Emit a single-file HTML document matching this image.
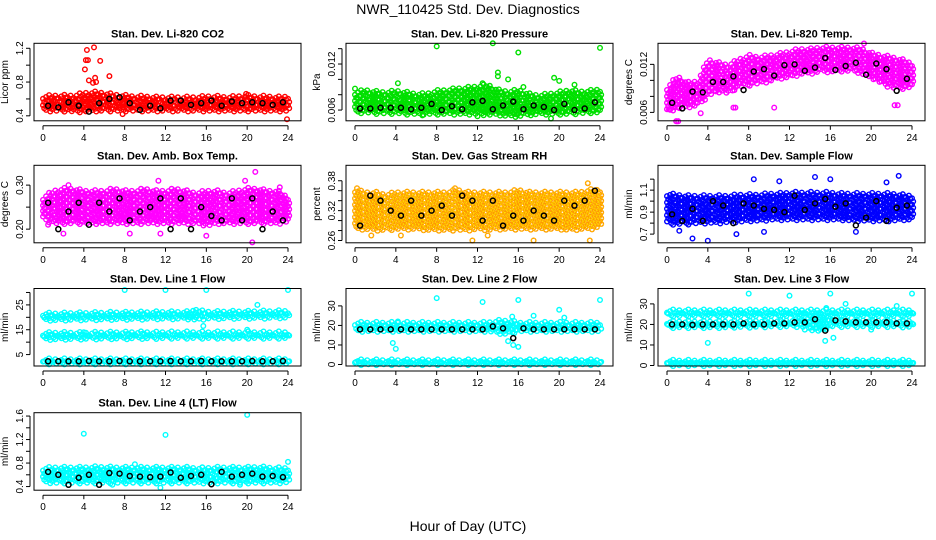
<!DOCTYPE html>
<html><head><meta charset="utf-8"><style>
body{margin:0;background:#fff}
svg{display:block;font-family:"Liberation Sans",Arial,sans-serif}
</style></head><body>
<svg id="c" width="936" height="540" viewBox="0 0 936 540">
<rect width="936" height="540" fill="#fff"/>
<text x="468" y="14" text-anchor="middle" font-size="14">NWR_110425  Std. Dev. Diagnostics</text>
<text x="468" y="531" text-anchor="middle" font-size="14">Hour of Day (UTC)</text>
</svg>
<script>
const hours=[0,1,2,3,4,5,6,7,8,9,10,11,12,13,14,15,16,17,18,19,20,21,22,23,24];
const blackHours=[0.5,1.5,2.5,3.5,4.5,5.5,6.5,7.5,8.5,9.5,10.5,11.5,12.5,13.5,14.5,15.5,16.5,17.5,18.5,19.5,20.5,21.5,22.5,23.5];
const xTicks=[0,4,8,12,16,20,24];
// CO2
const co2Lo=[0.47,0.47,0.47,0.46,0.46,0.47,0.47,0.47,0.47,0.47,0.47,0.47,0.47,0.47,0.47,0.47,0.47,0.47,0.47,0.47,0.47,0.47,0.47,0.47,0.47];
const co2Hi=[0.62,0.63,0.63,0.63,0.66,0.67,0.66,0.64,0.63,0.62,0.62,0.61,0.61,0.61,0.61,0.61,0.62,0.62,0.61,0.62,0.63,0.62,0.62,0.61,0.62];
const co2Black=[0.52,0.50,0.56,0.52,0.45,0.55,0.60,0.62,0.55,0.47,0.52,0.49,0.58,0.58,0.53,0.55,0.58,0.52,0.57,0.55,0.56,0.55,0.53,0.56];
const co2OutX=[4.1,4.2,4.3,4.4,4.5,4.9,5.0,5.1,5.2,5.6,6.5,23.9,7.8,19.9];
const co2OutY=[0.95,1.06,1.18,1.06,0.82,0.79,1.21,0.85,0.80,1.05,0.87,0.36,0.42,0.66];
// Pressure
const prLo=[0.0058,0.0058,0.0057,0.0057,0.0057,0.0056,0.0056,0.0056,0.0056,0.0056,0.0056,0.0056,0.0056,0.0055,0.0055,0.0053,0.0053,0.0055,0.0056,0.0056,0.0056,0.0056,0.0057,0.0058,0.0058];
const prHi=[0.0082,0.0085,0.0083,0.0082,0.0084,0.0082,0.0080,0.0080,0.0084,0.0085,0.0087,0.0088,0.0090,0.0092,0.0085,0.0083,0.0085,0.0080,0.0078,0.0080,0.0082,0.0085,0.0083,0.0084,0.0086];
const prBlack=[0.0062,0.0062,0.0063,0.0063,0.0063,0.0061,0.0063,0.0068,0.0060,0.0065,0.0061,0.0070,0.0072,0.0061,0.0066,0.0071,0.0061,0.0066,0.0064,0.0060,0.0068,0.0060,0.0062,0.0070];
const prOutX=[8,13.5,16,24,14,14,15,19.5,20,12.5,19.2,12,6.6,0,4.2,21.5,16.5];
const prOutY=[0.0143,0.0147,0.0135,0.0141,0.0109,0.0104,0.0100,0.0102,0.0098,0.0095,0.0049,0.0052,0.0053,0.0088,0.0095,0.0093,0.0090];
// Temp
const tpLo=[0.0062,0.0066,0.0068,0.0070,0.0083,0.0087,0.0085,0.0093,0.0095,0.0098,0.0100,0.0104,0.0105,0.0109,0.0110,0.0112,0.0112,0.0113,0.0113,0.0110,0.0104,0.0097,0.0092,0.0091,0.0093];
const tpHi=[0.0090,0.0104,0.0096,0.0098,0.0125,0.0121,0.0118,0.0125,0.0130,0.0128,0.0130,0.0132,0.0135,0.0138,0.0138,0.0140,0.0140,0.0140,0.0140,0.0139,0.0133,0.0130,0.0128,0.0125,0.0120];
const tpBlack=[0.0072,0.0065,0.0086,0.0085,0.0098,0.0098,0.0105,0.0088,0.0111,0.0114,0.0106,0.0119,0.0120,0.0112,0.0116,0.0128,0.0113,0.0118,0.0122,0.0107,0.0121,0.0114,0.0087,0.0102];
const tpOutX=[0.9,1.1,3.3,6.5,6.7,10.5,19.3,22.3,22.6,0.2];
const tpOutY=[0.0049,0.0049,0.0059,0.0066,0.0066,0.0066,0.0146,0.0069,0.0069,0.0064];
// Amb box temp
const amLo=[0.225,0.215,0.215,0.215,0.215,0.215,0.215,0.215,0.215,0.215,0.215,0.215,0.215,0.215,0.215,0.215,0.21,0.215,0.215,0.215,0.215,0.215,0.215,0.215,0.22];
const amHi=[0.27,0.285,0.29,0.29,0.285,0.285,0.285,0.29,0.285,0.285,0.29,0.285,0.285,0.29,0.285,0.28,0.285,0.285,0.28,0.285,0.29,0.29,0.285,0.285,0.27];
const amBlack=[0.26,0.20,0.24,0.26,0.21,0.26,0.24,0.27,0.22,0.24,0.25,0.27,0.20,0.27,0.20,0.25,0.23,0.22,0.27,0.22,0.27,0.20,0.24,0.22];
const amOutX=[2,8.5,11.5,16,20.5,20.8,11.3,19.8,23.2,0.5,2.5];
const amOutY=[0.19,0.19,0.19,0.185,0.17,0.33,0.31,0.31,0.295,0.21,0.30];
// Gas stream RH
const rhLo=[0.285,0.285,0.283,0.283,0.285,0.285,0.285,0.283,0.283,0.283,0.283,0.283,0.285,0.283,0.285,0.285,0.285,0.285,0.285,0.285,0.285,0.283,0.285,0.285,0.29];
const rhHi=[0.36,0.355,0.355,0.35,0.355,0.355,0.355,0.355,0.355,0.355,0.36,0.355,0.355,0.355,0.355,0.355,0.36,0.355,0.355,0.355,0.355,0.355,0.355,0.36,0.36];
const rhBlack=[0.29,0.35,0.34,0.32,0.31,0.34,0.31,0.32,0.33,0.31,0.35,0.34,0.30,0.34,0.29,0.31,0.30,0.32,0.31,0.30,0.34,0.33,0.34,0.36];
const rhOutX=[0.2,11.5,17.5,23,22.8,4.5,1.6,9.8,13];
const rhOutY=[0.365,0.26,0.26,0.26,0.375,0.27,0.27,0.365,0.27];
// Sample flow
const sfLo=[0.80,0.80,0.80,0.81,0.81,0.81,0.82,0.82,0.83,0.83,0.84,0.84,0.84,0.84,0.84,0.84,0.84,0.84,0.83,0.83,0.83,0.83,0.83,0.84,0.84];
const sfHi=[1.06,1.05,1.04,1.04,1.04,1.04,1.04,1.05,1.05,1.05,1.06,1.06,1.07,1.07,1.07,1.07,1.07,1.06,1.06,1.06,1.06,1.06,1.06,1.05,1.04];
const sfBlack=[0.88,0.82,0.93,0.82,1.00,0.96,0.80,0.98,0.96,0.93,0.92,0.90,1.05,0.92,0.98,1.02,0.95,0.98,0.78,0.85,1.00,0.82,0.94,0.96];
const sfOutX=[2.5,4,8.5,14.5,22.7,6.8,18.5,11,16,21.5,1.2,9.5];
const sfOutY=[0.66,0.64,1.20,1.22,1.23,0.70,0.72,1.18,1.20,1.17,0.73,0.72];
// Line 1
const l1aLo=[19.3,19.2,19.3,19.4,19.4,19.5,19.5,19.6,19.6,19.7,19.7,19.8,19.8,19.8,19.8,19.3,19.9,19.9,20.0,20.0,20.0,20.1,20.1,20.2,20.2];
const l1aHi=[21.3,21.2,21.3,21.4,21.4,21.5,21.5,21.6,21.6,21.7,21.7,21.8,21.8,21.8,21.8,22.5,21.9,21.9,22.0,22.0,22.0,22.1,22.1,22.2,22.2];
const l1bLo=[11.5,11.5,11.6,11.6,11.7,11.7,11.8,11.8,11.8,11.9,11.9,11.9,12.0,12.0,12.0,12.0,12.0,12.0,12.0,12.0,12.0,12.0,12.0,12.0,12.0];
const l1bHi=[13.3,13.5,13.5,13.4,13.5,13.5,13.6,13.6,13.6,13.7,13.7,13.6,13.7,13.7,13.7,13.7,13.6,13.7,13.7,13.7,13.7,13.7,13.6,13.7,13.6];
const l1cLo=[1.7,1.7,1.7,1.7,1.7,1.7,1.7,1.7,1.7,1.7,1.7,1.7,1.7,1.7,1.7,1.7,1.7,1.7,1.7,1.7,1.7,1.7,1.7,1.7,1.7];
const l1cHi=[2.8,2.8,2.8,2.8,2.8,2.8,2.8,2.8,2.8,2.8,2.8,2.8,2.8,2.8,2.8,2.8,2.8,2.8,2.8,2.8,2.8,2.8,2.8,2.8,2.8];
const l1Black=[2.3,2.3,2.3,2.3,2.4,2.3,2.3,2.4,2.3,2.3,2.3,2.3,2.4,2.3,2.3,2.4,2.3,2.3,2.3,2.3,2.4,2.3,2.3,2.4];
const l1OutX=[8,12,16,24,21,15.7,15,20,4];
const l1OutY=[31,31,31,31,25,16.5,23,15,14];
// Line 2
const l2aLo=[17.5,17.5,17.5,17.5,17.5,17.5,17.5,17.5,17.5,17.5,17.5,17.5,17.5,17.5,16.5,16,17.5,17.5,17.5,17.5,17.5,17.5,17.5,17.5,17.5];
const l2aHi=[21,21,21,21,21,21,21,21,21,21,21,21,21,21,22,22,21,21,21,21,21,21,21,21,21];
const l2bLo=[0.5,0.5,0.5,0.5,0.5,0.5,0.5,0.5,0.5,0.5,0.5,0.5,0.5,0.5,0.5,0.5,0.5,0.5,0.5,0.5,0.5,0.5,0.5,0.5,0.5];
const l2bHi=[1.8,1.8,1.8,1.8,1.8,1.8,1.8,1.8,1.8,1.8,1.8,1.8,1.8,1.8,1.8,1.8,1.8,1.8,1.8,1.8,1.8,1.8,1.8,1.8,1.8];
const l2Black=[18,18,18,18,18,18,18,18,18,18,18,18,18,19.5,18.5,13.5,18.5,18,18,18,18,18,18,18];
const l2OutX=[3.7,4,4.2,8,12.5,16,17.5,20,20.5,24,15,15.5,15.4,16];
const l2OutY=[11,8,22,34,32,33,25,28,24,33,12,10,24.5,9];
// Line 3
const l3aLo=[24.5,24.5,24.5,24.5,24.5,24.5,24.5,24.5,24.5,24.5,24.5,24.5,24.5,24.5,24.5,24.5,24.5,24.5,24.5,24.5,24.5,24.5,24.5,24.5,24.5];
const l3aHi=[26.5,26.5,26.5,26.5,26.5,26.5,26.5,26.5,26.5,26.5,26.5,26.5,26.5,26.5,26.5,26.5,26.5,26.5,26.5,26.5,26.5,26.5,26.5,26.5,26.5];
const l3bLo=[19,19,19,19,19,19,19,19.2,19.2,19.3,19.4,19.5,19.5,19.5,18,17,19.5,19.5,19.5,19.5,19.5,19.5,19.5,19.3,19.3];
const l3bHi=[21,21,21,21,21,21,21,21.2,21.2,21.3,21.4,21.5,21.5,22,23,24,22,21.5,21.5,21.5,21.5,21.5,21.5,21.3,21.3];
const l3cLo=[0.5,0.5,0.5,0.5,0.5,0.5,0.5,0.5,0.5,0.5,0.5,0.5,0.5,0.5,0.5,0.5,0.5,0.5,0.5,0.5,0.5,0.5,0.5,0.5,0.5];
const l3cHi=[2,2,2,2,2,2,2,2,2,2,2,2,2,2,2,2,2,2,2,2,2,2,2,2,2];
const l3Black=[20,20,19.8,20,20,20,20,20.5,20,20,20.5,20.5,21,21,22.5,17,22,21.5,21,21,21,21,20.5,20.5];
const l3OutX=[4,8,12,16,24,17.5,22.5,20,15.5,13.5,15.6,16.3];
const l3OutY=[11,35,34,35,35,30,29,17.5,12,17.5,28,13.5];
// Line 4
const l4Lo=[0.49,0.48,0.48,0.48,0.48,0.48,0.48,0.48,0.48,0.48,0.48,0.48,0.48,0.48,0.48,0.48,0.48,0.48,0.48,0.48,0.48,0.48,0.48,0.48,0.49];
const l4Hi=[0.70,0.71,0.71,0.71,0.71,0.72,0.72,0.71,0.71,0.71,0.71,0.71,0.71,0.71,0.71,0.70,0.70,0.71,0.71,0.71,0.71,0.72,0.71,0.70,0.70];
const l4Black=[0.65,0.60,0.43,0.55,0.60,0.43,0.63,0.62,0.58,0.57,0.56,0.57,0.64,0.55,0.58,0.60,0.44,0.65,0.57,0.60,0.62,0.57,0.58,0.56];
const l4OutX=[4,12,20,24,11.5,9,6.8,19.3];
const l4OutY=[1.30,1.28,1.62,0.82,0.38,0.78,0.43,0.43];

const panels=[
 {t:"Stan. Dev. Li-820 CO2",yl:"Licor ppm",c:0,r:0,lo:0.341,hi:1.259,ticks:[0.4,0.6,0.8,1.0,1.2],labs:["0.4","","0.8","","1.2"],col:"#ff0000",bands:[[co2Lo,co2Hi]],blk:co2Black,ox:co2OutX,oy:co2OutY},
 {t:"Stan. Dev. Li-820 Pressure",yl:"kPa",c:1,r:0,lo:0.0046,hi:0.0147,ticks:[0.006,0.008,0.010,0.012,0.014],labs:["0.006","","","0.012",""],col:"#00e000",bands:[[prLo,prHi]],blk:prBlack,ox:prOutX,oy:prOutY},
 {t:"Stan. Dev. Li-820 Temp.",yl:"degrees C",c:2,r:0,lo:0.00495,hi:0.01463,ticks:[0.006,0.008,0.010,0.012],labs:["0.006","","","0.012"],col:"#ff00ff",bands:[[tpLo,tpHi]],blk:tpBlack,ox:tpOutX,oy:tpOutY},
 {t:"Stan. Dev. Amb. Box Temp.",yl:"degrees C",c:0,r:1,lo:0.169,hi:0.345,ticks:[0.20,0.25,0.30],labs:["0.20","","0.30"],col:"#ff00ff",bands:[[amLo,amHi]],blk:amBlack,ox:amOutX,oy:amOutY},
 {t:"Stan. Dev. Gas Stream RH",yl:"percent",c:1,r:1,lo:0.2554,hi:0.411,ticks:[0.26,0.28,0.30,0.32,0.34,0.36,0.38],labs:["0.26","","","0.32","","","0.38"],col:"#ff9900",bands:[[rhLo,rhHi]],blk:rhBlack,ox:rhOutX,oy:rhOutY},
 {t:"Stan. Dev. Sample Flow",yl:"ml/min",c:2,r:1,lo:0.621,hi:1.326,ticks:[0.7,0.8,0.9,1.0,1.1,1.2],labs:["0.7","","0.9","","1.1",""],col:"#0000ff",bands:[[sfLo,sfHi]],blk:sfBlack,ox:sfOutX,oy:sfOutY},
 {t:"Stan. Dev. Line 1 Flow",yl:"ml/min",c:0,r:2,lo:0.4,hi:31.6,ticks:[5,10,15,20,25,30],labs:["5","","15","","25",""],col:"#00ffff",bands:[[l1aLo,l1aHi],[l1bLo,l1bHi],[l1cLo,l1cHi]],blk:l1Black,ox:l1OutX,oy:l1OutY},
 {t:"Stan. Dev. Line 2 Flow",yl:"ml/min",c:1,r:2,lo:-0.76,hi:38.9,ticks:[0,10,20,30],labs:["0","10","20","30"],col:"#00ffff",bands:[[l2aLo,l2aHi],[l2bLo,l2bHi]],blk:l2Black,ox:l2OutX,oy:l2OutY},
 {t:"Stan. Dev. Line 3 Flow",yl:"ml/min",c:2,r:2,lo:-0.24,hi:37.5,ticks:[0,10,20,30],labs:["0","10","20","30"],col:"#00ffff",bands:[[l3aLo,l3aHi],[l3bLo,l3bHi],[l3cLo,l3cHi]],blk:l3Black,ox:l3OutX,oy:l3OutY},
 {t:"Stan. Dev. Line 4 (LT) Flow",yl:"ml/min",c:0,r:3,lo:0.338,hi:1.657,ticks:[0.4,0.6,0.8,1.0,1.2,1.4,1.6],labs:["0.4","","0.8","","1.2","","1.6"],col:"#00ffff",bands:[[l4Lo,l4Hi]],blk:l4Black,ox:l4OutX,oy:l4OutY}
];
const NS="http://www.w3.org/2000/svg";
const svg=document.getElementById('c');
const rowTop=[43.3,165.3,288.5,412.7],BH=77.5;
function mk(tag,at,parent){const e=document.createElementNS(NS,tag);for(const k in at)e.setAttribute(k,at[k]);(parent||svg).appendChild(e);return e;}
function interp(arr,h){const i=Math.min(23,Math.floor(h));const f=h-i;return arr[i]*(1-f)+arr[i+1]*f;}
panels.forEach((p,pi)=>{
 const L=34+312*p.c,R=L+267,T=rowTop[p.r],B=T+BH;
 const x0=43+312*p.c,x24=x0+245;
 const X=h=>x0+(h/24)*(x24-x0);
 const Y=v=>B-(v-p.lo)/(p.hi-p.lo)*(B-T);
 const g=mk('g',{});
 
 
 const tt=mk('text',{x:(L+R)/2,y:T-6,'text-anchor':'middle','font-size':11,'font-weight':'bold'},g);tt.textContent=p.t;
 
 
 const pts=mk('g',{fill:'none','stroke-width':1.4},g);
 
 
 let d='';
 const circ=(cx,cy)=>{d+=`M${(cx-2.3).toFixed(1)},${cy.toFixed(1)}a2.3,2.3 0 1,0 4.6,0a2.3,2.3 0 1,0 -4.6,0`;};
 p.bands.forEach(b=>{
  let col=0;
  for(let h=0;h<=24.001;h+=0.3){
   const lo=interp(b[0],h),hi=interp(b[1],h);
   const rag=((col*7)%5)-2;col++;
   const yl=Y(lo)+rag*0.8,yh=Y(hi)-rag*0.8;
   const n=Math.max(1,Math.round((yl-yh)/3));
   for(let k=0;k<=n;k++)circ(X(h)+((k%2)?1.2:0),yh+(yl-yh)*k/n);
  }
 });
 p.ox.forEach((xv,i)=>circ(X(xv),Y(p.oy[i])));
 mk('path',{d:d,stroke:p.col},pts);
 if(p.col==="#ff9900"){mk('path',{d:d,stroke:'#ffee00','stroke-width':0.6,'stroke-dasharray':'1 2'},pts);}
 let db='';
 p.blk.forEach((v,i)=>{const cx=X(blackHours[i]),cy=Y(v);db+=`M${cx-2.5},${cy}a2.5,2.5 0 1,0 5,0a2.5,2.5 0 1,0 -5,0`;});
 const bp=mk('path',{d:db,stroke:'#000','stroke-width':1.5,fill:'none'},g);
 
 
 mk('rect',{x:L,y:T,width:R-L,height:B-T,fill:'none',stroke:'#000','stroke-width':1},g);
 const ax=mk('g',{stroke:'#000','stroke-width':1},g);
 
 
 const ya=B+5;
 mk('line',{x1:X(0),x2:X(24),y1:ya,y2:ya},ax);
 xTicks.forEach(h=>{mk('line',{x1:X(h),x2:X(h),y1:ya,y2:ya+4},ax);const t=mk('text',{x:X(h),y:ya+15,'text-anchor':'middle','font-size':10,stroke:'none',fill:'#000'},ax);t.textContent=h;});
 const ay=mk('g',{stroke:'#000','stroke-width':1},g);
 
 
 const tv=p.ticks.filter(v=>v>=p.lo&&v<=p.hi);
 mk('line',{x1:L-4,x2:L-4,y1:Y(tv[0]),y2:Y(tv[tv.length-1])},ay);
 p.ticks.forEach((v,i)=>{if(v<p.lo||v>p.hi)return;const y=Y(v);mk('line',{x1:L-8,x2:L-4,y1:y,y2:y},ay);
  if(p.labs[i]){const t=mk('text',{x:L-11,y:y,'text-anchor':'middle','font-size':10,stroke:'none',fill:'#000',transform:`rotate(-90 ${L-11} ${y})`},ay);t.textContent=p.labs[i];}});
 const yl=mk('text',{x:L-26,y:(T+B)/2,'text-anchor':'middle','font-size':10,transform:`rotate(-90 ${L-26} ${(T+B)/2})`},g);yl.textContent=p.yl;
 
 
});
</script>
</body></html>
